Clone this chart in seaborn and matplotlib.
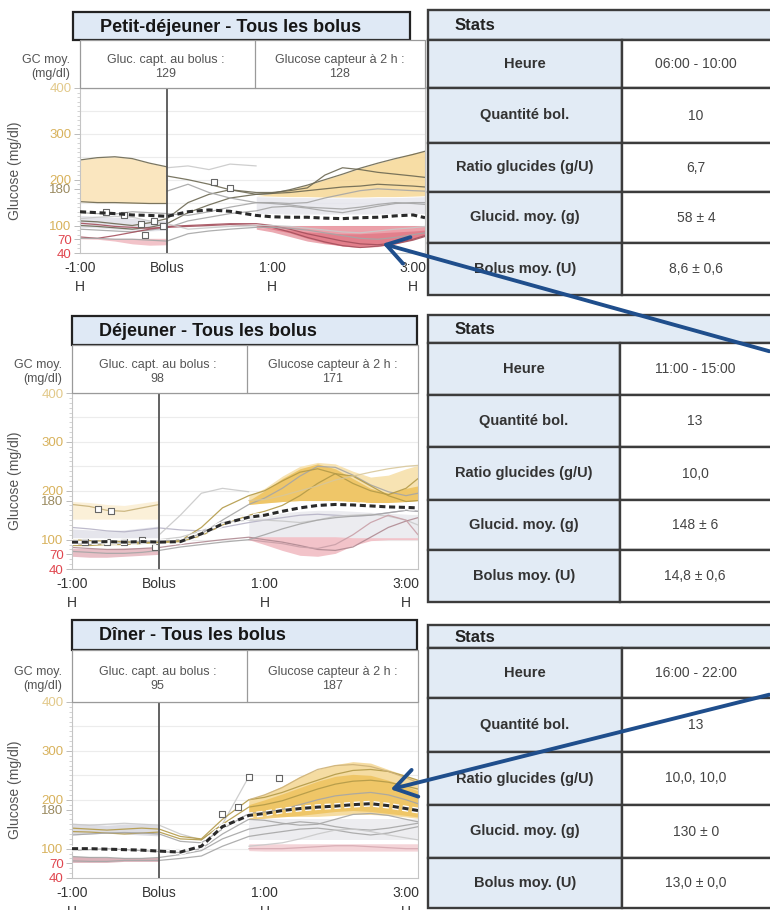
import numpy as np
import matplotlib
matplotlib.use("Agg")
import matplotlib.pyplot as plt
import seaborn as sns
from matplotlib.patches import Rectangle, FancyArrowPatch
from matplotlib.ticker import MultipleLocator
import matplotlib.patheffects as pe

N = np.nan

# ---- shared axes definitions -------------------------------------------
HOURS = [-1, -0.8, -0.6, -0.4, -0.2, 0, 0.2, 0.4, 0.6, 0.85,
         1.0, 1.25, 1.5, 1.75, 2.0, 2.25, 2.5, 2.75, 3.0, 3.17]
PRE_HOURS = HOURS[:6]
POST_HOURS = HOURS[9:]
X_TICKS = [-1, 0, 1, 3]
X_TICK_LABELS = ["-1:00\nH", "Bolus", "1:00\nH", "3:00\nH"]
Y_TICKS = [40, 70, 100, 180, 200, 300, 400]
GRID_LEVELS = [100, 150, 200, 250, 300, 350]

STAT_LABELS = ["Heure", "Quantité bol.", "Ratio glucides (g/U)",
               "Glucid. moy. (g)", "Bolus moy. (U)"]

# ---- Petit-déjeuner ------------------------------------------------------
BF_TITLE = "Petit-déjeuner - Tous les bolus"
BF_AT_BOLUS = 129
BF_AT_2H = 128
BF_STATS = ["06:00 - 10:00", "10", "6,7", "58 ± 4", "8,6 ± 0,6"]
BF_MEAN = [130, 128, 126, 123, 122, 120, 130, 134, 131, 122,
           119, 118, 118, 116, 115, 117, 118, 121, 123, 117]
BF_TRACES = [
    [243, 248, 250, 246, 236, 228, N, N, N, N, N, N, N, N, N, N, N, N, N, N],
    [152, 150, 150, 149, 148, 148, N, N, N, N, N, N, N, N, N, N, N, N, N, N],
    [N, N, N, N, N, 226, 230, 222, 234, 230, N, N, N, N, N, N, N, N, N, N],
    [N, N, N, N, N, 208, 200, 190, 178, 168, 170, 178, 188, 200, 212, 225, 236, 246, 255, 262],
    [110, 108, 104, 100, 106, 115, 150, 168, 178, 172, 172, 176, 182, 210, 226, 222, 216, 212, 208, 205],
    [100, 98, 95, 92, 96, 104, 128, 145, 160, 168, 170, 172, 176, 180, 184, 186, 190, 188, 186, 184],
    [128, 126, 125, 130, 128, 126, 122, 130, 140, 150, 150, 148, 150, 160, 168, 176, 180, 178, 176, 175],
    [92, 90, 88, 86, 90, 95, 110, 118, 126, 132, 140, 142, 138, 132, 128, 135, 142, 148, 150, 150],
    [75, 72, 78, 85, 92, 98, 100, 102, 104, 104, 100, 92, 82, 74, 66, 60, 58, 62, 70, 78],
    [105, 102, 98, 96, 94, 96, 98, 100, 102, 100, 96, 86, 74, 64, 56, 52, 55, 60, 68, 76],
    [72, 72, 70, 70, 68, 66, 82, 88, 92, 96, 96, 94, 90, 84, 78, 72, 70, 74, 80, 84],
    [115, 118, 120, 118, 110, 104, 92, 95, 98, 100, 100, 98, 94, 90, 86, 84, 88, 92, 95, 98],
    [N, N, N, N, N, 175, 190, 172, 160, 150, 148, 145, 140, 138, 136, 140, 146, 150, 148, 146],
]
BF_PRE_HI_TOP = [243, 248, 250, 246, 236, 228]
BF_PRE_HI_BOT = [152, 150, 150, 149, 148, 148]
BF_PRE_MID_TOP = [122, 120, 118, 116, 112, 110]
BF_PRE_MID_BOT = [96, 95, 92, 90, 88, 90]
BF_PRE_LO_TOP = [72, 72, 72, 72, 72, 72]
BF_PRE_LO_BOT = [71, 70, 66, 60, 57, 58]
BF_POST_HI_TOP = [165, 170, 178, 188, 200, 212, 225, 236, 246, 258, 262]
BF_POST_HI_BOT = [165, 164, 163, 163, 162, 162, 162, 163, 163, 164, 165]
BF_POST_MID_TOP = [163, 162, 161, 161, 160, 160, 160, 161, 161, 162, 163]
BF_POST_MID_BOT = [126, 126, 125, 125, 125, 125, 125, 125, 126, 126, 126]
BF_POST_LO_TOP = [100, 100, 100, 100, 100, 100, 100, 100, 100, 100, 100]
BF_POST_LO_BOT = [98, 92, 84, 72, 62, 55, 52, 54, 60, 70, 80]
BF_POST_LO2_TOP = [96, 94, 90, 86, 84, 82, 82, 84, 86, 88, 90]
BF_POST_LO2_BOT = [92, 86, 76, 66, 60, 56, 55, 58, 64, 72, 80]
BF_MARK_H = [-0.7, -0.5, -0.3, -0.15, -0.05, -0.25, 0.45, 0.6]
BF_MARK_G = [130, 124, 104, 110, 100, 80, 196, 182]

# ---- Déjeuner ------------------------------------------------------------
LU_TITLE = "Déjeuner - Tous les bolus"
LU_AT_BOLUS = 98
LU_AT_2H = 171
LU_STATS = ["11:00 - 15:00", "13", "10,0", "148 ± 6", "14,8 ± 0,6"]
LU_MEAN = [95, 95, 96, 95, 96, 95, 96, 112, 132, 146,
           150, 158, 165, 170, 172, 171, 169, 167, 166, 165]
LU_TRACES = [
    [172, 168, 160, 158, 165, 172, N, N, N, N, N, N, N, N, N, N, N, N, N, N],
    [125, 122, 118, 116, 120, 124, 120, 118, 125, 135, 140, 145, 150, 152, 150, 148, 150, 155, 160, 158],
    [92, 90, 92, 94, 96, 97, 100, 112, 140, 172, 185, 205, 230, 250, 248, 232, 212, 198, 190, 195],
    [88, 88, 90, 90, 92, 95, 98, 125, 165, 190, 200, 220, 238, 245, 235, 215, 200, 192, 205, 225],
    [100, 98, 97, 96, 94, 94, 96, 108, 130, 150, 158, 170, 190, 215, 235, 230, 210, 190, 178, 180],
    [N, N, N, N, N, 110, 150, 195, 205, 198, N, N, N, N, N, N, N, N, N, N],
    [N, N, N, N, N, 100, 105, 118, 135, 140, 140, 138, 135, 140, 148, 150, 152, 148, 140, 130],
    [84, 82, 80, 80, 82, 84, 90, 95, 100, 105, 100, 95, 88, 80, 78, 85, 105, 125, 138, 145],
    [N, N, N, N, N, N, N, N, N, 100, 96, 92, 85, 82, 90, 110, 135, 150, 140, 110],
    [76, 74, 72, 72, 74, 78, 85, 90, 95, 100, 110, 122, 132, 140, 145, 148, 150, 155, 160, 158],
    [N, N, N, N, N, N, N, N, N, 180, 182, 190, 200, 210, 222, 230, 238, 245, 250, 252],
]
LU_PRE_HI_TOP = [178, 176, 172, 170, 175, 180]
LU_PRE_HI_BOT = [142, 142, 142, 142, 142, 142]
LU_PRE_MID_TOP = [122, 120, 118, 120, 124, 128]
LU_PRE_MID_BOT = [104, 104, 104, 104, 104, 104]
LU_PRE_LO_TOP = [82, 82, 82, 83, 84, 84]
LU_PRE_LO_BOT = [66, 64, 64, 66, 68, 70]
LU_POST_HI_TOP = [190, 205, 230, 250, 258, 255, 240, 228, 232, 245, 252]
LU_POST_HI_BOT = [172, 175, 178, 180, 180, 180, 178, 176, 176, 178, 180]
LU_POST_HI2_TOP = [180, 200, 225, 245, 255, 245, 225, 205, 195, 205, 210]
LU_POST_MID_TOP = [150, 152, 155, 158, 160, 160, 158, 156, 154, 152, 150]
LU_POST_MID_BOT = [100, 100, 100, 100, 100, 100, 100, 100, 100, 100, 100]
LU_POST_LO_TOP = [106, 106, 106, 106, 106, 106, 104, 104, 104, 104, 104]
LU_POST_LO_BOT = [100, 90, 78, 68, 66, 72, 88, 98, 100, 100, 100]
LU_MARK_H = [-0.7, -0.55, -0.85, -0.6, -0.4, -0.2, -0.05]
LU_MARK_G = [162, 158, 96, 95, 96, 100, 86]

# ---- Dîner -----------------------------------------------------------------
DI_TITLE = "Dîner - Tous les bolus"
DI_AT_BOLUS = 95
DI_AT_2H = 187
DI_STATS = ["16:00 - 22:00", "13", "10,0, 10,0", "130 ± 0", "13,0 ± 0,0"]
DI_MEAN = [100, 100, 99, 98, 97, 95, 93, 105, 145, 168,
           172, 178, 182, 185, 187, 190, 192, 188, 182, 178]
DI_TRACES = [
    [150, 148, 150, 152, 150, 148, 130, 118, 150, 247, N, N, N, N, N, N, N, N, N, N],
    [142, 140, 138, 140, 142, 140, 125, 120, 160, 200, 205, 215, 228, 240, 252, 260, 262, 258, 248, 240],
    [135, 134, 132, 130, 132, 134, 120, 118, 150, 185, 190, 198, 210, 222, 232, 238, 240, 236, 228, 222],
    [128, 130, 132, 133, 132, 130, 115, 112, 140, 172, 175, 180, 190, 200, 208, 212, 215, 210, 200, 192],
    [96, 98, 100, 98, 96, 94, 92, 100, 130, 160, 158, 152, 148, 150, 160, 170, 172, 168, 160, 155],
    [84, 82, 82, 80, 80, 82, 88, 96, 120, 140, 145, 150, 155, 152, 145, 140, 138, 142, 148, 152],
    [75, 74, 74, 76, 76, 76, 80, 85, 105, 125, 130, 135, 140, 142, 138, 132, 128, 132, 140, 145],
    [N, N, N, N, N, N, N, N, N, 105, 108, 112, 120, 130, 138, 140, 135, 128, 122, 118],
    [N, N, N, N, N, N, N, N, N, 100, 100, 100, 102, 104, 106, 106, 104, 102, 100, 100],
    [N, N, N, N, N, N, N, N, N, 200, 210, 225, 245, 262, 270, 272, 268, 258, 245, 235],
]
DI_PRE_MID_TOP = [152, 150, 148, 150, 150, 148]
DI_PRE_MID_BOT = [128, 130, 132, 130, 128, 126]
DI_PRE_LO_TOP = [84, 84, 82, 82, 82, 82]
DI_PRE_LO_BOT = [72, 72, 72, 74, 74, 74]
DI_POST_HI_TOP = [200, 212, 228, 248, 262, 272, 278, 275, 262, 250, 240]
DI_POST_HI_BOT = [168, 168, 166, 166, 166, 168, 170, 170, 168, 165, 162]
DI_POST_HI2_TOP = [190, 200, 212, 225, 238, 248, 252, 250, 240, 228, 218]
DI_POST_HI2_BOT = [160, 162, 165, 168, 172, 176, 178, 176, 172, 168, 165]
DI_POST_MID_TOP = [160, 160, 160, 160, 160, 160, 160, 160, 160, 160, 160]
DI_POST_MID_BOT = [118, 118, 118, 118, 118, 118, 118, 118, 118, 118, 118]
DI_POST_LO_TOP = [110, 110, 110, 110, 110, 110, 110, 110, 110, 110, 110]
DI_POST_LO_BOT = [96, 95, 95, 95, 95, 95, 95, 95, 95, 95, 95]
DI_MARK_H = [0.85, 0.6, 0.75, 1.2]
DI_MARK_G = [247, 170, 185, 245]

# ---- styling ---------------------------------------------------------------
sns.set_theme(style="white")
plt.rcParams["font.family"] = ["Liberation Sans", "DejaVu Sans"]

W, H = 770, 910
fig = plt.figure(figsize=(W / 100, H / 100), dpi=100)

Y_TICK_COLORS = ["#e0464f", "#e0464f", "#d8b25c", "#9a8a60", "#d8b25c", "#d8b25c", "#e2c98a"]
BLUE = "#1f4e8c"
YEL_PALE = "#fae6bf"
YEL_MID = "#f6d796"
YEL_STRONG = "#edbd4f"
LAV = "#e5e5ec"
RED_PALE = "#f2c3c9"
RED_MID = "#e9909a"
RED_DARK = "#db6574"
DARK = "#6c6852"
GREY = "#a6a6a6"
LIGHT = "#c9c9c9"
DRED = "#a5505d"
OLIVE = "#b39a48"

# piecewise time axis: the post-bolus hour is stretched relative to the rest
H_KNOTS = [-10, -1, 0, 1, 3, 10]
P_KNOTS = [-783, 0, 87, 192, 333, 826.5]


def to_pos(h):
    return np.interp(h, H_KNOTS, P_KNOTS)


def to_hours(p):
    return np.interp(p, P_KNOTS, H_KNOTS)


def frac(x0, y0, x1, y1):
    return [x0 / W, 1 - y1 / H, (x1 - x0) / W, (y1 - y0) / H]


def draw_plot(box, mean, traces, colors, bands, mark_h, mark_g, halo):
    x0, y0, x1, y1 = box
    ax = fig.add_axes(frac(*box))
    ax.set_xscale("function", functions=(to_pos, to_hours))
    for lvl in GRID_LEVELS:
        ax.axhline(lvl, color="#ececec", lw=0.8, zorder=0)
    for hrs, top, bot, color, alpha in bands:
        ax.fill_between(hrs, bot, top, color=color, alpha=alpha, lw=0, zorder=1)
    for tr, c in zip(traces, colors):
        sns.lineplot(x=HOURS, y=tr, ax=ax, color=c, lw=0.9, alpha=0.9,
                     estimator=None, zorder=2)
    ax.axvline(0, color="#555555", lw=1.3, zorder=3)
    sns.scatterplot(x=mark_h, y=mark_g, ax=ax, marker="s", s=18, color="white",
                    edgecolor="#666666", linewidth=0.8, zorder=5)
    effects = [pe.Stroke(linewidth=4.2, foreground="white"), pe.Normal()] if halo else None
    sns.lineplot(x=HOURS, y=mean, ax=ax, color="#2a2a2a", lw=2.2,
                 linestyle=(0, (2.0, 1.2)), estimator=None, zorder=6,
                 path_effects=effects)
    ax.set_xlim(-1, 3.17)
    ax.set_ylim(40, 400)
    ax.set_xlabel("")
    ax.set_ylabel("Glucose (mg/dl)", fontsize=10, color="#555555")
    ax.yaxis.set_label_coords((22 - x0) / (x1 - x0), 0.5)
    ax.set_yticks(Y_TICKS)
    ax.set_yticklabels([str(v) for v in Y_TICKS])
    for lbl, c in zip(ax.get_yticklabels(), Y_TICK_COLORS):
        lbl.set_color(c)
    ax.yaxis.set_minor_locator(MultipleLocator(10))
    ax.tick_params(axis="y", which="major", left=True, length=4, width=0.7,
                   color="#bbbbbb", labelsize=9.5, pad=2)
    ax.tick_params(axis="y", which="minor", left=True, length=2.5, width=0.6,
                   color="#cccccc")
    ax.set_xticks(X_TICKS)
    ax.set_xticklabels(X_TICK_LABELS)
    ax.xaxis.set_minor_locator(plt.NullLocator())
    ax.tick_params(axis="x", which="both", bottom=False, length=0, pad=6,
                   labelsize=10, colors="#333333")
    for lbl in ax.get_xticklabels():
        lbl.set_linespacing(1.45)
    for sp in ax.spines.values():
        sp.set_color("#c4c4c4")
        sp.set_linewidth(0.8)
    return ax


def pre_post_bands(pre, post):
    out = [(PRE_HOURS, t, b, c, a) for t, b, c, a in pre]
    out += [(POST_HOURS, t, b, c, a) for t, b, c, a in post]
    return out


# ---- the three meal plots --------------------------------------------------
bf_bands = pre_post_bands(
    [(BF_PRE_HI_TOP, BF_PRE_HI_BOT, YEL_PALE, 1.0),
     (BF_PRE_MID_TOP, BF_PRE_MID_BOT, LAV, 1.0),
     (BF_PRE_LO_TOP, BF_PRE_LO_BOT, RED_PALE, 1.0)],
    [(BF_POST_HI_TOP, BF_POST_HI_BOT, YEL_MID, 0.85),
     (BF_POST_MID_TOP, BF_POST_MID_BOT, LAV, 0.8),
     (BF_POST_LO_TOP, BF_POST_LO_BOT, RED_MID, 0.85),
     (BF_POST_LO2_TOP, BF_POST_LO2_BOT, RED_DARK, 0.55)])
bf_colors = [DARK, DARK, LIGHT, DARK, DARK, DARK, GREY, GREY, DRED, DRED, GREY, LIGHT, GREY]
draw_plot((80, 88, 425, 253), BF_MEAN, BF_TRACES, bf_colors, bf_bands,
          BF_MARK_H, BF_MARK_G, False)

lu_bands = pre_post_bands(
    [(LU_PRE_HI_TOP, LU_PRE_HI_BOT, "#fbf0d8", 1.0),
     (LU_PRE_MID_TOP, LU_PRE_MID_BOT, LAV, 1.0),
     (LU_PRE_LO_TOP, LU_PRE_LO_BOT, "#e6b8c0", 0.9)],
    [(LU_POST_HI_TOP, LU_POST_HI_BOT, "#f7e3b3", 1.0),
     (LU_POST_HI2_TOP, LU_POST_HI_BOT, YEL_STRONG, 0.75),
     (LU_POST_MID_TOP, LU_POST_MID_BOT, "#ececf0", 1.0),
     (LU_POST_LO_TOP, LU_POST_LO_BOT, RED_PALE, 1.0)])
lu_colors = ["#c8b27a", "#b6b3c6", GREY, OLIVE, OLIVE, LIGHT, LIGHT, "#b08a92",
             "#c9a0a8", GREY, "#d8c79a"]
draw_plot((72, 393, 418, 569), LU_MEAN, LU_TRACES, lu_colors, lu_bands,
          LU_MARK_H, LU_MARK_G, True)

di_bands = pre_post_bands(
    [(DI_PRE_MID_TOP, DI_PRE_MID_BOT, "#dcdce2", 1.0),
     (DI_PRE_LO_TOP, DI_PRE_LO_BOT, "#d9aab3", 0.9)],
    [(DI_POST_MID_TOP, DI_POST_MID_BOT, "#ededf0", 1.0),
     (DI_POST_LO_TOP, DI_POST_LO_BOT, "#f4d4d8", 1.0),
     (DI_POST_HI_TOP, DI_POST_HI_BOT, "#f5dca2", 1.0),
     (DI_POST_HI2_TOP, DI_POST_HI2_BOT, YEL_STRONG, 0.7)])
di_colors = [LIGHT, OLIVE, OLIVE, GREY, GREY, GREY, GREY, LIGHT, "#d7aab2", "#cdb27a"]
draw_plot((72, 702, 418, 878), DI_MEAN, DI_TRACES, di_colors, di_bands,
          DI_MARK_H, DI_MARK_G, True)

# ---- overlay: titles, header cells, stats tables, arrows ----------------
ov = fig.add_axes([0, 0, 1, 1])
ov.set_xlim(0, W)
ov.set_ylim(H, 0)
ov.axis("off")


def title_box(x0, y0, x1, y1, text):
    ov.add_patch(Rectangle((x0, y0), x1 - x0, y1 - y0, facecolor="#dfe9f5",
                           edgecolor="#222222", lw=1.6))
    ov.text(x0 + 27, (y0 + y1) / 2 + 1, text, fontsize=13, fontweight="bold",
            color="#161616", ha="left", va="center")


def header(x0, y0, x1, y1, xdiv, at_bolus, at_2h):
    ov.add_patch(Rectangle((x0, y0), x1 - x0, y1 - y0, facecolor="white",
                           edgecolor="#9a9a9a", lw=0.9))
    ov.plot([xdiv, xdiv], [y0, y1], color="#9a9a9a", lw=0.9)
    yc = y0 + (y1 - y0) * 0.56
    ov.text((x0 + xdiv) / 2 - 2, yc, f"Gluc. capt. au bolus :\n{at_bolus}",
            ha="center", va="center", fontsize=9, color="#555555", linespacing=1.15)
    ov.text((xdiv + x1) / 2, yc, f"Glucose capteur à 2 h :\n{at_2h}",
            ha="center", va="center", fontsize=9, color="#555555", linespacing=1.15)
    ov.text(x0 - 10, yc, "GC moy.\n(mg/dl)", ha="right", va="center",
            fontsize=9, color="#555555", linespacing=1.15)


def stats_table(stats_top, edges, xdiv, values):
    x0, x1 = 428, 773
    ov.add_patch(Rectangle((x0, stats_top), x1 - x0, edges[0] - stats_top,
                           facecolor="#e2ebf5", edgecolor="#3c3c3c", lw=1.7))
    ov.text(455, (stats_top + edges[0]) / 2 + 1, "Stats", fontsize=12,
            fontweight="bold", color="#222222", ha="left", va="center")
    for i, (lab, val) in enumerate(zip(STAT_LABELS, values)):
        ya, yb = edges[i], edges[i + 1]
        ov.add_patch(Rectangle((x0, ya), xdiv - x0, yb - ya, facecolor="#e2ebf5",
                               edgecolor="#3c3c3c", lw=1.7))
        ov.add_patch(Rectangle((xdiv, ya), x1 - xdiv, yb - ya, facecolor="white",
                               edgecolor="#3c3c3c", lw=1.7))
        ov.text((x0 + xdiv) / 2, (ya + yb) / 2, lab, fontsize=10.5, fontweight="bold",
                color="#333333", ha="center", va="center")
        ov.text((xdiv + 770) / 2, (ya + yb) / 2, val, fontsize=10,
                color="#444444", ha="center", va="center")


title_box(73, 12, 410, 40, BF_TITLE)
header(80, 40, 425, 88, 255, BF_AT_BOLUS, BF_AT_2H)
stats_table(10, [40, 88, 143, 192, 243, 295], 622, BF_STATS)

title_box(72, 316, 417, 345, LU_TITLE)
header(72, 345, 418, 393, 247, LU_AT_BOLUS, LU_AT_2H)
stats_table(315, [343, 395, 447, 500, 550, 602], 620, LU_STATS)

title_box(72, 620, 417, 650, DI_TITLE)
header(72, 650, 418, 702, 247, DI_AT_BOLUS, DI_AT_2H)
stats_table(625, [648, 698, 752, 805, 858, 908], 622, DI_STATS)

for start, end in [((772, 352), (380, 243)), ((772, 694), (388, 790))]:
    ov.add_patch(FancyArrowPatch(start, end,
                                 arrowstyle="->,head_length=0.7,head_width=0.45",
                                 mutation_scale=22, lw=2.8, color=BLUE,
                                 capstyle="round", joinstyle="round", zorder=10))

fig.savefig("out.png", dpi=100)
